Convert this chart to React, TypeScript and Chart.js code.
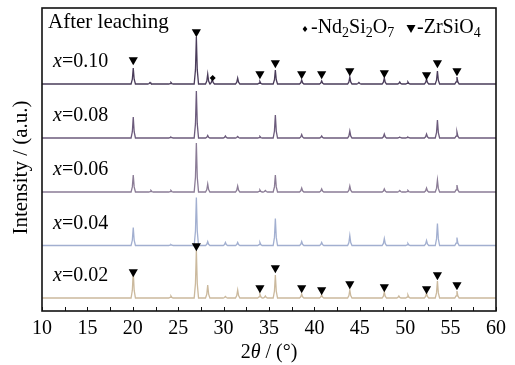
import React, { useEffect, useRef } from 'react';
import { Chart, registerables } from 'chart.js';

Chart.register(...registerables);

// ---- Data ----
const xMin = 10;
const xMax = 60;
const xTickStep = 5;
const xMinorStep = 2.5;

const seriesLabels = ['0.02', '0.04', '0.06', '0.08', '0.10'];
const seriesOffsets = [13, 65.5, 119, 173, 227];
const seriesColors = ['#cbb99d', '#a2afd0', '#8b7c96', '#6c5b7c', '#4a3c5a'];

// [2θ, relative intensity] peak lists for each sample
const peaks002: [number, number][] = [
  [20.05, 26], [24.2, 2], [27.0, 48], [28.25, 13], [30.2, 1.5], [31.55, 8], [34.0, 4], [34.6, 2],
  [35.7, 23], [38.6, 4], [40.8, 3], [43.9, 8], [47.7, 6], [49.3, 2], [50.3, 3], [52.35, 5],
  [53.55, 17], [55.7, 7],
];
const peaks004: [number, number][] = [
  [20.05, 18], [24.2, 1], [27.0, 48], [28.25, 4], [30.2, 3], [31.55, 3], [34.0, 3], [35.7, 27],
  [38.6, 4], [40.8, 3], [43.9, 10], [47.7, 7], [50.3, 2], [52.35, 5], [53.55, 22], [55.7, 8],
];
const peaks006: [number, number][] = [
  [20.05, 17], [22.0, 1.5], [24.2, 1.5], [27.0, 49], [28.25, 8], [31.55, 6], [34.0, 2], [34.6, 1.5],
  [35.7, 17], [38.6, 4], [40.8, 3], [43.9, 6], [47.7, 3], [49.4, 1.5], [50.3, 1.5], [52.35, 4],
  [53.55, 12], [55.7, 7],
];
const peaks008: [number, number][] = [
  [20.05, 21], [24.2, 1], [27.0, 47], [28.25, 2.5], [30.2, 2], [31.55, 1.5], [34.0, 1.5], [35.7, 23],
  [38.6, 3.5], [40.8, 2], [43.9, 7], [47.7, 4], [49.4, 1], [50.3, 1], [52.35, 4], [53.55, 18],
  [55.7, 6],
];
const peaks010: [number, number][] = [
  [20.05, 16], [21.9, 1.5], [24.2, 1.5], [27.0, 47], [28.25, 10], [28.75, 5], [31.55, 6], [34.0, 2.5],
  [35.7, 14], [38.6, 4], [40.8, 3], [43.9, 7], [44.9, 1.5], [47.7, 6], [49.4, 2], [50.3, 2],
  [52.35, 5], [53.55, 13], [55.7, 7],
];
const seriesPeaks = [peaks002, peaks004, peaks006, peaks008, peaks010];

// phase markers [2θ, y]
const zrsio4Top: [number, number][] = [
  [20.05, 251], [27.0, 279], [34.0, 237], [35.7, 248], [38.6, 237], [40.8, 237],
  [43.9, 240], [47.7, 238], [52.35, 236], [53.55, 248], [55.7, 240],
];
const zrsio4Bottom: [number, number][] = [
  [20.05, 39], [27.0, 65], [34.0, 23], [35.7, 43], [38.6, 23], [40.8, 21],
  [43.9, 27], [47.7, 24], [52.35, 22], [53.55, 36], [55.7, 26],
];
const nd2si2o7Top: [number, number][] = [[28.8, 233]];

const SERIF = "'Liberation Serif', 'DejaVu Serif', serif";

function buildProfile(peaks: [number, number][], offset: number) {
  const hw = 0.24;
  const pts: { x: number; y: number }[] = [{ x: xMin, y: offset }];
  for (const [p, h] of peaks) {
    pts.push({ x: p - hw, y: offset });
    pts.push({ x: p - 0.1, y: offset + h * 0.3 });
    pts.push({ x: p, y: offset + h });
    pts.push({ x: p + 0.1, y: offset + h * 0.3 });
    pts.push({ x: p + hw, y: offset });
  }
  pts.push({ x: xMax, y: offset });
  return pts;
}

type Run = { t: string; size: number; italic?: boolean; dy?: number };

function drawRuns(ctx: CanvasRenderingContext2D, x: number, y: number, runs: Run[], align: 'left' | 'center' = 'left') {
  const fontOf = (r: Run) => `${r.italic ? 'italic ' : ''}${r.size}px ${SERIF}`;
  let total = 0;
  for (const r of runs) {
    ctx.font = fontOf(r);
    total += ctx.measureText(r.t).width;
  }
  let cx = align === 'center' ? x - total / 2 : x;
  ctx.textAlign = 'left';
  ctx.textBaseline = 'alphabetic';
  for (const r of runs) {
    ctx.font = fontOf(r);
    ctx.fillText(r.t, cx, y + (r.dy || 0));
    cx += ctx.measureText(r.t).width;
  }
}

function drawTri(ctx: CanvasRenderingContext2D, cx: number, cy: number, w: number, h: number) {
  ctx.beginPath();
  ctx.moveTo(cx - w / 2, cy - h / 2);
  ctx.lineTo(cx + w / 2, cy - h / 2);
  ctx.lineTo(cx, cy + h / 2);
  ctx.closePath();
  ctx.fill();
}

function drawDiamond(ctx: CanvasRenderingContext2D, cx: number, cy: number, r: number) {
  ctx.beginPath();
  ctx.moveTo(cx, cy - r);
  ctx.lineTo(cx + r * 0.8, cy);
  ctx.lineTo(cx, cy + r);
  ctx.lineTo(cx - r * 0.8, cy);
  ctx.closePath();
  ctx.fill();
}

const decorPlugin = {
  id: 'decor',
  afterDraw(chart: any) {
    const { ctx, chartArea: a, scales } = chart;
    const xs = scales.x;
    const ys = scales.y;
    ctx.save();
    // inner ticks on bottom axis
    ctx.strokeStyle = '#111';
    ctx.lineWidth = 1;
    for (let v = xMin; v <= xMax + 1e-6; v += xMinorStep) {
      const px = Math.round(xs.getPixelForValue(v)) + 0.5;
      ctx.beginPath();
      ctx.moveTo(px, a.bottom);
      ctx.lineTo(px, a.bottom - 4);
      ctx.stroke();
    }
    // frame
    ctx.lineWidth = 1.6;
    ctx.strokeRect(a.left, a.top, a.right - a.left, a.bottom - a.top);

    ctx.fillStyle = '#000';
    // title inside
    drawRuns(ctx, a.left + 6, 28, [{ t: 'After leaching', size: 21 }]);
    // sample labels
    seriesLabels.forEach((lab, i) => {
      const by = ys.getPixelForValue(seriesOffsets[i]) - 17;
      drawRuns(ctx, a.left + 11, by, [
        { t: 'x', size: 20, italic: true },
        { t: '=' + lab, size: 20 },
      ]);
    });
    // legend
    drawDiamond(ctx, 305, 29, 3);
    drawRuns(ctx, 311, 33, [
      { t: '-Nd', size: 20 },
      { t: '2', size: 14, dy: 4 },
      { t: 'Si', size: 20 },
      { t: '2', size: 14, dy: 4 },
      { t: 'O', size: 20 },
      { t: '7', size: 14, dy: 4 },
    ]);
    drawTri(ctx, 411, 29, 9, 8);
    drawRuns(ctx, 417, 33, [
      { t: '-ZrSiO', size: 20 },
      { t: '4', size: 14, dy: 4 },
    ]);
    // x axis title
    drawRuns(ctx, (a.left + a.right) / 2, 358, [
      { t: '2', size: 20 },
      { t: 'θ', size: 20, italic: true },
      { t: ' / (°)', size: 20 },
    ], 'center');
    // y axis title
    ctx.save();
    ctx.translate(27, (a.top + a.bottom) / 2 + 8);
    ctx.rotate(-Math.PI / 2);
    ctx.font = `21px ${SERIF}`;
    ctx.textAlign = 'center';
    ctx.textBaseline = 'alphabetic';
    ctx.fillText('Intensity / (a.u.)', 0, 0);
    ctx.restore();
    ctx.restore();
  },
};

export default function App() {
  const ref = useRef<HTMLCanvasElement>(null);
  useEffect(() => {
    if (!ref.current) return;
    const lineSets = seriesPeaks.map((pk, i) => ({
      type: 'line' as const,
      label: 'x=' + seriesLabels[i],
      data: buildProfile(pk, seriesOffsets[i]),
      borderColor: seriesColors[i],
      borderWidth: 1.3,
      pointRadius: 0,
      tension: 0,
      fill: false,
      order: 2,
    }));
    const markerSets = [
      {
        type: 'scatter' as const,
        label: 'ZrSiO4 top',
        data: zrsio4Top.map(([x, y]) => ({ x, y })),
        pointStyle: 'triangle',
        rotation: 180,
        pointRadius: 5.3,
        backgroundColor: '#000',
        borderColor: '#000',
        borderWidth: 0,
        order: 0,
      },
      {
        type: 'scatter' as const,
        label: 'ZrSiO4 bottom',
        data: zrsio4Bottom.map(([x, y]) => ({ x, y })),
        pointStyle: 'triangle',
        rotation: 180,
        pointRadius: 5.3,
        backgroundColor: '#000',
        borderColor: '#000',
        borderWidth: 0,
        order: 0,
      },
      {
        type: 'scatter' as const,
        label: 'Nd2Si2O7',
        data: nd2si2o7Top.map(([x, y]) => ({ x, y })),
        pointStyle: 'rectRot',
        pointRadius: 3,
        backgroundColor: '#000',
        borderColor: '#000',
        borderWidth: 0,
        order: 0,
      },
    ];
    const chart = new Chart(ref.current, {
      type: 'line',
      data: { datasets: [...markerSets, ...lineSets] as any },
      options: {
        animation: false,
        responsive: false,
        maintainAspectRatio: false,
        parsing: false as any,
        normalized: true,
        layout: { padding: { left: 42, right: 19, top: 8, bottom: 0 } },
        plugins: { legend: { display: false }, tooltip: { enabled: false } },
        scales: {
          x: {
            type: 'linear',
            min: xMin,
            max: xMax,
            ticks: {
              stepSize: xTickStep,
              color: '#000',
              font: { family: SERIF, size: 20 },
              padding: 6,
              maxRotation: 0,
              autoSkip: false,
            },
            grid: { display: false, drawTicks: false },
            border: { display: false },
            afterFit: (s: any) => {
              s.height = 54;
            },
          },
          y: {
            type: 'linear',
            min: 0,
            max: 303,
            display: false,
          },
        },
      },
      plugins: [decorPlugin],
    });
    return () => chart.destroy();
  }, []);
  return (
    <div style={{ position: 'absolute', left: 0, top: 0, width: 515, height: 365, background: '#fff' }}>
      <canvas ref={ref} width={515} height={365} />
    </div>
  );
}
